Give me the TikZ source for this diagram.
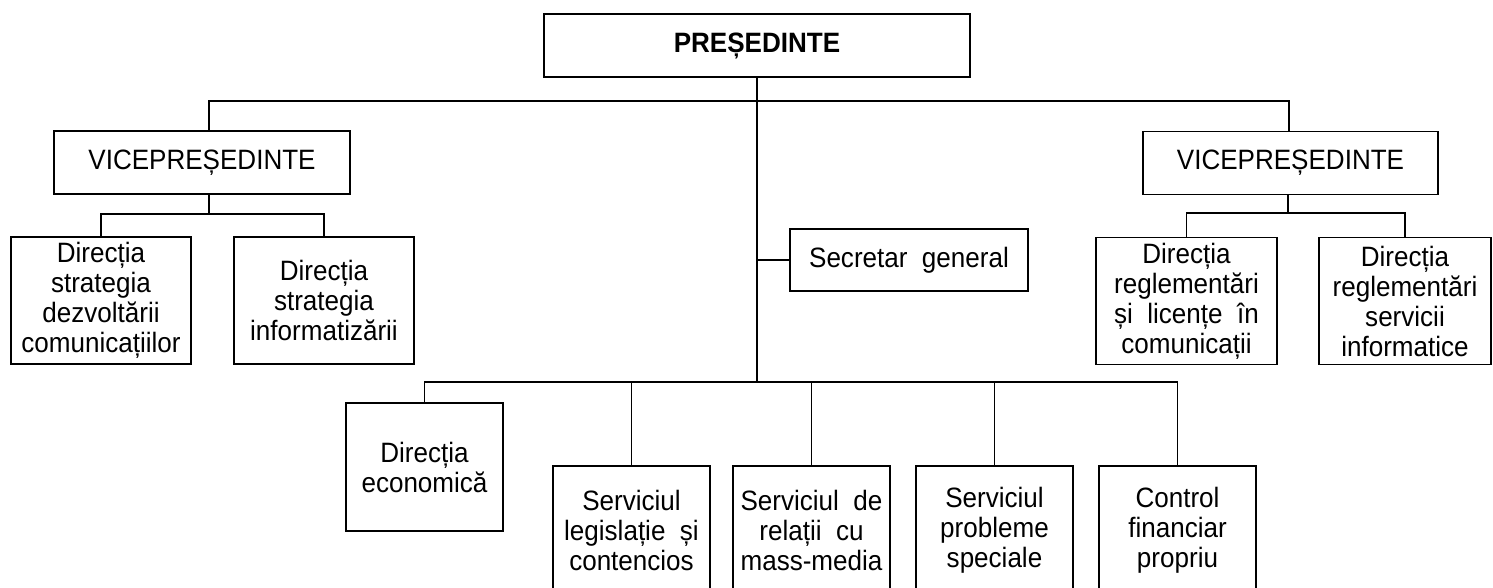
\documentclass[tikz,border=0pt]{standalone}
\usepackage{fontspec}
\setmainfont{Liberation Sans}[FakeStretch=0.93]
\usepackage{tikz}
\usetikzlibrary{positioning, calc}

\begin{document}
\begin{tikzpicture}[
  x=1pt, y=-1pt,
  orgbox/.style={draw, line width=1.6pt, inner sep=0pt, align=center, font=\fontsize{28}{30}\selectfont},
  dirbox/.style={orgbox, minimum width=180pt, minimum height=127pt},
  servbox/.style={orgbox, minimum width=157pt, minimum height=128pt},
  link/.style={line width=1.6pt}
]
  \useasboundingbox (0, 0) rectangle (1493, 588);

  % President
  \node[orgbox, minimum width=426pt, minimum height=63pt, font=\fontsize{28}{30}\selectfont\bfseries] (pres) at (757, 45.5) {PREȘEDINTE};

  % Vice presidents
  \node[orgbox, minimum width=296pt, minimum height=63pt] (vpl) at (202, 162.5) {VICEPREȘEDINTE};
  \node[orgbox, minimum width=295pt, minimum height=63pt] (vpr) at (1290.5, 163) {VICEPREȘEDINTE};

  % Directions under the vice presidents
  \node[dirbox] (dsc) at (101, 300.5) {Direcția\\strategia\\dezvoltării\\comunicațiilor};
  \node[dirbox] (dsi) at (324, 300.5) {Direcția\\strategia\\informatizării};
  \node[dirbox, minimum width=181pt] (drl) at (1186.5, 301) {Direcția\\reglementări\\și~~licențe~~în\\comunicații};
  \node[dirbox, minimum width=172pt] (drs) at (1405, 301) {Direcția\\reglementări\\servicii\\informatice};

  % Secretary
  \node[orgbox, minimum width=238pt, minimum height=62pt] (sec) at (909, 260) {Secretar\ \ general};

  % Departments under the president
  \node[servbox] (econ) at (424.5, 467) {Direcția\\economică};
  \node[servbox] (leg) at (631.5, 530) {Serviciul\\legislație~~și\\contencios};
  \node[servbox] (media) at (811.5, 530) {Serviciul~~de\\relații~~cu\\mass-media};
  \node[servbox] (prob) at (994.5, 530) {Serviciul\\probleme\\speciale};
  \node[servbox] (ctrl) at (1177.5, 530) {Control\\financiar\\propriu};

  % Links
  \coordinate (barl) at (209, 101);
  \coordinate (barr) at (1289, 101);
  \coordinate (subl) at (209, 214);
  \coordinate (subr) at (1288, 213);
  \coordinate (hub) at (757, 382);

  \draw[link] (barl |- vpl.north) -- (barl) -- (barr) -- (barr |- vpr.north);
  \draw[link] (pres.south) -- (hub);
  \draw[link] (pres.south |- sec.west) -- (sec.west);

  \draw[link] (vpl.south -| subl) -- (subl);
  \draw[link] (dsc.north) |- (subl) -| (dsi.north);
  \draw[link] (vpr.south -| subr) -- (subr);
  \draw[link] (drl.north) |- (subr) -| (drs.north);

  \draw[link] (econ.north) |- (hub) -| (ctrl.north);
  \foreach \n in {leg, media, prob}
    \draw[link] (\n.north) -- (\n.north |- hub);
\end{tikzpicture}
\end{document}
